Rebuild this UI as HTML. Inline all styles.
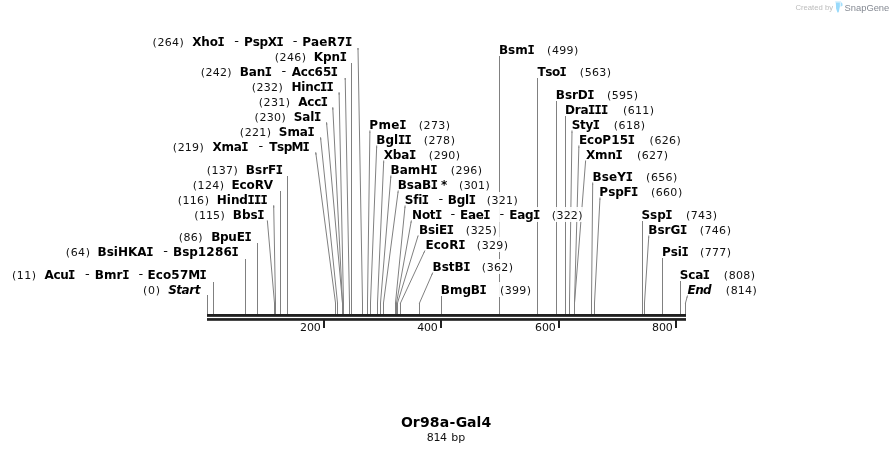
<!DOCTYPE html>
<html><head><meta charset="utf-8"><title>Or98a-Gal4</title>
<style>
html,body{margin:0;padding:0;background:#fff}
svg{display:block}
text{font-family:"DejaVu Sans","Liberation Sans",sans-serif;font-kerning:none;font-variant-ligatures:none;fill:#000;white-space:pre}
.n{font-size:11px;fill:#111}
.d{font-size:13px;fill:#111}
.b{font-size:12px;font-weight:bold}
.i{font-size:12px;font-weight:bold;font-style:italic}
.t{font-size:14px;font-weight:bold}
.m{font-family:"DejaVu Sans Mono","Liberation Mono",monospace;stroke:#000;stroke-width:0.2px}
.w{font-family:"Liberation Sans",sans-serif}
.ln{stroke:#808080;stroke-width:1;fill:none;stroke-linecap:square}
.v{stroke:#808080;stroke-width:1;shape-rendering:crispEdges}
.bg{fill:#fff;fill-opacity:0.65}
.bg2{fill:#fff;fill-opacity:0.75}
</style></head><body>
<svg width="893" height="453" viewBox="0 0 893 453">
<rect width="893" height="453" fill="#fff"/>
<g id="lines">
<line class="ln" x1="358" y1="48.6" x2="362.5" y2="303"/>
<line class="v" x1="362.5" y1="303" x2="362.5" y2="314"/>
<line class="v" x1="351.5" y1="63" x2="351.5" y2="314"/>
<line class="ln" x1="345.2" y1="78.6" x2="349.5" y2="303"/>
<line class="v" x1="349.5" y1="303" x2="349.5" y2="314"/>
<line class="ln" x1="339.1" y1="93" x2="343.5" y2="303"/>
<line class="v" x1="343.5" y1="303" x2="343.5" y2="314"/>
<line class="ln" x1="332.8" y1="108" x2="342.5" y2="303"/>
<line class="v" x1="342.5" y1="303" x2="342.5" y2="314"/>
<line class="ln" x1="326.6" y1="123" x2="342.5" y2="303"/>
<line class="v" x1="342.5" y1="303" x2="342.5" y2="314"/>
<line class="ln" x1="320.6" y1="138" x2="337.5" y2="303"/>
<line class="v" x1="337.5" y1="303" x2="337.5" y2="314"/>
<line class="ln" x1="315.8" y1="153" x2="335.5" y2="303"/>
<line class="v" x1="335.5" y1="303" x2="335.5" y2="314"/>
<line class="v" x1="287.5" y1="176" x2="287.5" y2="314"/>
<line class="v" x1="280.5" y1="191" x2="280.5" y2="314"/>
<line class="ln" x1="273.7" y1="206" x2="275.5" y2="303"/>
<line class="v" x1="275.5" y1="303" x2="275.5" y2="314"/>
<line class="ln" x1="267.4" y1="221" x2="274.5" y2="303"/>
<line class="v" x1="274.5" y1="303" x2="274.5" y2="314"/>
<line class="v" x1="257.5" y1="243" x2="257.5" y2="314"/>
<line class="v" x1="245.5" y1="259" x2="245.5" y2="314"/>
<line class="v" x1="213.5" y1="282" x2="213.5" y2="314"/>
<line class="v" x1="207.5" y1="295" x2="207.5" y2="314"/>
<line class="ln" x1="369.9" y1="131" x2="367.5" y2="303"/>
<line class="v" x1="367.5" y1="303" x2="367.5" y2="314"/>
<line class="ln" x1="376.7" y1="146" x2="370.5" y2="303"/>
<line class="v" x1="370.5" y1="303" x2="370.5" y2="314"/>
<line class="ln" x1="383.7" y1="161" x2="377.5" y2="303"/>
<line class="v" x1="377.5" y1="303" x2="377.5" y2="314"/>
<line class="ln" x1="390.9" y1="176" x2="380.5" y2="303"/>
<line class="v" x1="380.5" y1="303" x2="380.5" y2="314"/>
<line class="ln" x1="398.2" y1="191" x2="383.5" y2="303"/>
<line class="v" x1="383.5" y1="303" x2="383.5" y2="314"/>
<line class="ln" x1="405.1" y1="206" x2="395.5" y2="303"/>
<line class="v" x1="395.5" y1="303" x2="395.5" y2="314"/>
<line class="ln" x1="411.3" y1="221" x2="396.5" y2="303"/>
<line class="v" x1="396.5" y1="303" x2="396.5" y2="314"/>
<line class="ln" x1="418" y1="236" x2="397.5" y2="303"/>
<line class="v" x1="397.5" y1="303" x2="397.5" y2="314"/>
<line class="ln" x1="424.7" y1="251" x2="400.5" y2="303"/>
<line class="v" x1="400.5" y1="303" x2="400.5" y2="314"/>
<line class="ln" x1="432.6" y1="273" x2="419.5" y2="303"/>
<line class="v" x1="419.5" y1="303" x2="419.5" y2="314"/>
<line class="v" x1="441.5" y1="296" x2="441.5" y2="314"/>
<line class="v" x1="499.5" y1="56" x2="499.5" y2="314"/>
<line class="v" x1="537.5" y1="78" x2="537.5" y2="314"/>
<line class="v" x1="556.5" y1="101" x2="556.5" y2="314"/>
<line class="v" x1="565.5" y1="116" x2="565.5" y2="314"/>
<line class="ln" x1="572" y1="131" x2="569.5" y2="303"/>
<line class="v" x1="569.5" y1="303" x2="569.5" y2="314"/>
<line class="ln" x1="578.9" y1="146" x2="574.5" y2="303"/>
<line class="v" x1="574.5" y1="303" x2="574.5" y2="314"/>
<line class="ln" x1="585.6" y1="161" x2="574.5" y2="303"/>
<line class="v" x1="574.5" y1="303" x2="574.5" y2="314"/>
<line class="ln" x1="592.7" y1="183" x2="591.5" y2="303"/>
<line class="v" x1="591.5" y1="303" x2="591.5" y2="314"/>
<line class="ln" x1="600" y1="198" x2="594.5" y2="303"/>
<line class="v" x1="594.5" y1="303" x2="594.5" y2="314"/>
<line class="v" x1="642.5" y1="221" x2="642.5" y2="314"/>
<line class="ln" x1="648.8" y1="236" x2="644.5" y2="303"/>
<line class="v" x1="644.5" y1="303" x2="644.5" y2="314"/>
<line class="v" x1="662.5" y1="258" x2="662.5" y2="314"/>
<line class="v" x1="680.5" y1="281" x2="680.5" y2="314"/>
<line class="ln" x1="687.4" y1="296" x2="685.5" y2="303"/>
<line class="v" x1="685.5" y1="303" x2="685.5" y2="314"/>
</g>
<g id="bgs">
<rect class="bg" x="148.9" y="34" width="207.1" height="15"/>
<rect class="bg2" x="152.4" y="34" width="200.1" height="15"/>
<rect class="bg" x="271.1" y="49" width="79.5" height="15"/>
<rect class="bg2" x="274.6" y="49" width="72.5" height="15"/>
<rect class="bg" x="197.2" y="64" width="144.5" height="15"/>
<rect class="bg2" x="200.7" y="64" width="137.5" height="15"/>
<rect class="bg" x="248" y="79" width="89.3" height="15"/>
<rect class="bg2" x="251.5" y="79" width="82.3" height="15"/>
<rect class="bg" x="255.1" y="94" width="76.5" height="15"/>
<rect class="bg2" x="258.6" y="94" width="69.5" height="15"/>
<rect class="bg" x="250.9" y="109" width="74.1" height="15"/>
<rect class="bg2" x="254.4" y="109" width="67.1" height="15"/>
<rect class="bg" x="236.2" y="124" width="82.1" height="15"/>
<rect class="bg2" x="239.7" y="124" width="75.1" height="15"/>
<rect class="bg" x="169.2" y="139" width="144.2" height="15"/>
<rect class="bg2" x="172.7" y="139" width="137.2" height="15"/>
<rect class="bg" x="203.1" y="162" width="83.5" height="15"/>
<rect class="bg2" x="206.6" y="162" width="76.5" height="15"/>
<rect class="bg" x="189.1" y="177" width="88.6" height="15"/>
<rect class="bg2" x="192.6" y="177" width="81.6" height="15"/>
<rect class="bg" x="174.1" y="192" width="97.2" height="15"/>
<rect class="bg2" x="177.6" y="192" width="90.2" height="15"/>
<rect class="bg" x="190.6" y="207" width="77.5" height="15"/>
<rect class="bg2" x="194.1" y="207" width="70.5" height="15"/>
<rect class="bg" x="175.1" y="229" width="80.2" height="15"/>
<rect class="bg2" x="178.6" y="229" width="73.2" height="15"/>
<rect class="bg" x="62" y="244" width="180.5" height="15"/>
<rect class="bg2" x="65.5" y="244" width="173.5" height="15"/>
<rect class="bg" x="8.3" y="267" width="202.1" height="15"/>
<rect class="bg2" x="11.8" y="267" width="195.1" height="15"/>
<rect class="bg" x="139.4" y="282" width="66.1" height="15"/>
<rect class="bg2" x="142.9" y="282" width="59.1" height="15"/>
<rect class="bg" x="365.8" y="117" width="87.9" height="15"/>
<rect class="bg2" x="369.3" y="117" width="80.9" height="15"/>
<rect class="bg" x="372.7" y="132" width="85.9" height="15"/>
<rect class="bg2" x="376.2" y="132" width="78.9" height="15"/>
<rect class="bg" x="379.4" y="147" width="84.4" height="15"/>
<rect class="bg2" x="382.9" y="147" width="77.4" height="15"/>
<rect class="bg" x="387" y="162" width="98.7" height="15"/>
<rect class="bg2" x="390.5" y="162" width="91.7" height="15"/>
<rect class="bg" x="394.2" y="177" width="99.2" height="15"/>
<rect class="bg2" x="397.7" y="177" width="92.2" height="15"/>
<rect class="bg" x="401.1" y="192" width="120.3" height="15"/>
<rect class="bg2" x="404.6" y="192" width="113.3" height="15"/>
<rect class="bg" x="408.5" y="207" width="177.6" height="15"/>
<rect class="bg2" x="412" y="207" width="170.6" height="15"/>
<rect class="bg" x="415.4" y="222" width="85.1" height="15"/>
<rect class="bg2" x="418.9" y="222" width="78.1" height="15"/>
<rect class="bg" x="422" y="237" width="89.7" height="15"/>
<rect class="bg2" x="425.5" y="237" width="82.7" height="15"/>
<rect class="bg" x="429" y="259" width="87.8" height="15"/>
<rect class="bg2" x="432.5" y="259" width="80.8" height="15"/>
<rect class="bg" x="437.2" y="282" width="97.5" height="15"/>
<rect class="bg2" x="440.7" y="282" width="90.5" height="15"/>
<rect class="bg" x="495.4" y="42" width="86.6" height="15"/>
<rect class="bg2" x="498.9" y="42" width="79.6" height="15"/>
<rect class="bg" x="533" y="64" width="81.7" height="15"/>
<rect class="bg2" x="536.5" y="64" width="74.7" height="15"/>
<rect class="bg" x="552.3" y="87" width="89.5" height="15"/>
<rect class="bg2" x="555.8" y="87" width="82.5" height="15"/>
<rect class="bg" x="561.4" y="102" width="96.2" height="15"/>
<rect class="bg2" x="564.9" y="102" width="89.2" height="15"/>
<rect class="bg" x="568" y="117" width="80.7" height="15"/>
<rect class="bg2" x="571.5" y="117" width="73.7" height="15"/>
<rect class="bg" x="575.4" y="132" width="109.1" height="15"/>
<rect class="bg2" x="578.9" y="132" width="102.1" height="15"/>
<rect class="bg" x="581.8" y="147" width="89.8" height="15"/>
<rect class="bg2" x="585.3" y="147" width="82.8" height="15"/>
<rect class="bg" x="588.9" y="169" width="92" height="15"/>
<rect class="bg2" x="592.4" y="169" width="85" height="15"/>
<rect class="bg" x="595.8" y="184" width="90.1" height="15"/>
<rect class="bg2" x="599.3" y="184" width="83.1" height="15"/>
<rect class="bg" x="637.7" y="207" width="82.9" height="15"/>
<rect class="bg2" x="641.2" y="207" width="75.9" height="15"/>
<rect class="bg" x="644.8" y="222" width="89.8" height="15"/>
<rect class="bg2" x="648.3" y="222" width="82.8" height="15"/>
<rect class="bg" x="658.4" y="244" width="76.2" height="15"/>
<rect class="bg2" x="661.9" y="244" width="69.2" height="15"/>
<rect class="bg" x="675.9" y="267" width="82.9" height="15"/>
<rect class="bg2" x="679.4" y="267" width="75.9" height="15"/>
<rect class="bg" x="683.3" y="282" width="77.2" height="15"/>
<rect class="bg2" x="686.8" y="282" width="70.2" height="15"/>
</g>
<g id="over"><line class="ln" x1="358" y1="48.6" x2="358.01" y2="49.2"/><line class="v" x1="351.5" y1="63" x2="351.5" y2="64.2"/><line class="ln" x1="345.2" y1="78.6" x2="345.21" y2="79.2"/><line class="ln" x1="339.1" y1="93" x2="339.13" y2="94.2"/><line class="ln" x1="332.8" y1="108" x2="332.86" y2="109.2"/><line class="ln" x1="326.6" y1="123" x2="326.71" y2="124.2"/><line class="ln" x1="320.6" y1="138" x2="320.72" y2="139.2"/><line class="ln" x1="315.8" y1="153" x2="315.96" y2="154.2"/><line class="v" x1="287.5" y1="176" x2="287.5" y2="177.2"/><line class="v" x1="280.5" y1="191" x2="280.5" y2="192.2"/><line class="ln" x1="273.7" y1="206" x2="273.72" y2="207.2"/><line class="ln" x1="267.4" y1="221" x2="267.5" y2="222.2"/><line class="v" x1="257.5" y1="243" x2="257.5" y2="244.2"/><line class="v" x1="245.5" y1="259" x2="245.5" y2="259.2"/><line class="v" x1="213.5" y1="282" x2="213.5" y2="282.2"/><line class="v" x1="207.5" y1="295" x2="207.5" y2="297.2"/><line class="ln" x1="369.9" y1="131" x2="369.88" y2="132.2"/><line class="ln" x1="376.7" y1="146" x2="376.65" y2="147.2"/><line class="ln" x1="383.7" y1="161" x2="383.65" y2="162.2"/><line class="ln" x1="390.9" y1="176" x2="390.8" y2="177.2"/><line class="ln" x1="398.2" y1="191" x2="398.04" y2="192.2"/><line class="ln" x1="405.1" y1="206" x2="404.98" y2="207.2"/><line class="ln" x1="411.3" y1="221" x2="411.08" y2="222.2"/><line class="ln" x1="418" y1="236" x2="417.63" y2="237.2"/><line class="ln" x1="424.7" y1="251" x2="424.14" y2="252.2"/><line class="ln" x1="432.6" y1="273" x2="432.08" y2="274.2"/><line class="v" x1="441.5" y1="296" x2="441.5" y2="297.2"/><line class="v" x1="499.5" y1="56" x2="499.5" y2="57.2"/><line class="v" x1="537.5" y1="78" x2="537.5" y2="79.2"/><line class="v" x1="556.5" y1="101" x2="556.5" y2="102.2"/><line class="v" x1="565.5" y1="116" x2="565.5" y2="117.2"/><line class="ln" x1="572" y1="131" x2="571.98" y2="132.2"/><line class="ln" x1="578.9" y1="146" x2="578.87" y2="147.2"/><line class="ln" x1="585.6" y1="161" x2="585.51" y2="162.2"/><line class="ln" x1="592.7" y1="183" x2="592.69" y2="184.2"/><line class="ln" x1="600" y1="198" x2="599.94" y2="199.2"/><line class="v" x1="642.5" y1="221" x2="642.5" y2="222.2"/><line class="ln" x1="648.8" y1="236" x2="648.72" y2="237.2"/><line class="v" x1="662.5" y1="258" x2="662.5" y2="259.2"/><line class="v" x1="680.5" y1="281" x2="680.5" y2="282.2"/><line class="ln" x1="687.4" y1="296" x2="687.07" y2="297.2"/></g>
<rect x="207" y="314" width="479" height="2.85" fill="#202020"/>
<rect x="207" y="318.1" width="479" height="2.7" fill="#202020"/>
<rect x="323" y="320" width="2" height="8" fill="#222"/>
<text class="n" x="300.11 306.93 313.74" y="331">200</text>
<rect x="440" y="320" width="2" height="8" fill="#222"/>
<text class="n" x="417.28 424.01 430.74" y="331">400</text>
<rect x="558" y="320" width="2" height="8" fill="#222"/>
<text class="n" x="535.11 541.93 548.74" y="331">600</text>
<rect x="675" y="320" width="2" height="8" fill="#222"/>
<text class="n" x="652.11 658.93 665.74" y="331">800</text>
<g id="labels">
<text class="n" x="152.54 157.42 164.7 171.97 179.56" y="46">(264)</text>
<text class="b" x="192.21 201.3 209.72 217.53" y="46">Xho<tspan class="m">I</tspan></text>
<text class="d" x="234.36" y="45.2">-</text>
<text class="b" x="243.96 252.63 259.55 267.87 276.62" y="46">PspX<tspan class="m">I</tspan></text>
<text class="d" x="292.86" y="45.2">-</text>
<text class="b" x="302.26 311.12 319.19 327.42 336.93 345.12" y="46">PaeR7<tspan class="m">I</tspan></text>
<text class="n" x="274.74 279.62 286.9 294.17 301.76" y="61">(246)</text>
<text class="b" x="313.66 322.9 331.46 339.73" y="61">Kpn<tspan class="m">I</tspan></text>
<text class="n" x="200.84 205.61 212.75 219.89 227.36" y="76">(242)</text>
<text class="b" x="239.76 248.76 256.71 264.82" y="76">Ban<tspan class="m">I</tspan></text>
<text class="d" x="281.56" y="75.2">-</text>
<text class="b" x="291.7 300.76 307.63 314.61 322.92 330.82" y="76">Acc65<tspan class="m">I</tspan></text>
<text class="n" x="251.64 256.5 263.75 271 278.56" y="91">(232)</text>
<text class="b" x="291.46 301.3 305.22 313.51 320.06 326.43" y="91">Hinc<tspan class="m">I</tspan><tspan class="m">I</tspan></text>
<text class="n" x="258.74 263.62 270.9 278.17 285.76" y="106">(231)</text>
<text class="b" x="298.3 307.33 314.18 320.73" y="106">Acc<tspan class="m">I</tspan></text>
<text class="n" x="254.54 259.42 266.7 273.97 281.56" y="121">(230)</text>
<text class="b" x="293.65 302.24 310.32 314.12" y="121">Sal<tspan class="m">I</tspan></text>
<text class="n" x="239.84 244.7 251.95 259.2 266.76" y="136">(221)</text>
<text class="b" x="278.85 287.38 299.8 307.43" y="136">Sma<tspan class="m">I</tspan></text>
<text class="n" x="172.84 177.65 184.85 192.04 199.56" y="151">(219)</text>
<text class="b" x="212.41 221.42 233.7 241.22" y="151">Xma<tspan class="m">I</tspan></text>
<text class="d" x="258.51" y="150.2">-</text>
<text class="b" x="269.2 277.06 283.77 291.57 302.52" y="151">TspM<tspan class="m">I</tspan></text>
<text class="n" x="206.74 211.58 218.8 226.02 233.56" y="174">(137)</text>
<text class="b" x="245.86 255.04 262.24 268.02 275.73" y="174">BsrF<tspan class="m">I</tspan></text>
<text class="n" x="192.74 197.62 204.9 212.17 219.76" y="189">(124)</text>
<text class="b" x="231.56 239.6 246.56 254.73 263.82" y="189">EcoRV</text>
<text class="n" x="177.74 182.6 189.85 197.1 204.66" y="204">(116)</text>
<text class="b" x="216.86 226.85 230.92 239.31 247.41 253.92 260.43" y="204">Hind<tspan class="m">I</tspan><tspan class="m">I</tspan><tspan class="m">I</tspan></text>
<text class="n" x="194.24 198.94 206 213.06 220.46" y="219">(115)</text>
<text class="b" x="232.86 241.93 250.42 257.23" y="219">Bbs<tspan class="m">I</tspan></text>
<text class="n" x="178.74 183.55 190.74 198.26" y="241">(86)</text>
<text class="b" x="211.16 220.03 228.34 236.72 244.43" y="241">BpuE<tspan class="m">I</tspan></text>
<text class="n" x="65.64 70.64 78.06 85.76" y="256">(64)</text>
<text class="b" x="97.56 106.72 113.86 117.98 128.03 137.34 146.32" y="256">BsiHKA<tspan class="m">I</tspan></text>
<text class="d" x="163.31" y="255.2">-</text>
<text class="b" x="172.96 182.13 189.18 197.8 206.36 214.93 223.49 231.62" y="256">Bsp1286<tspan class="m">I</tspan></text>
<text class="n" x="11.94 16.85 24.15 31.76" y="279">(11)</text>
<text class="b" x="44.6 53.48 60.18 68.03" y="279">Acu<tspan class="m">I</tspan></text>
<text class="d" x="85.11" y="278.2">-</text>
<text class="b" x="94.66 103.94 116.6 122.22" y="279">Bmr<tspan class="m">I</tspan></text>
<text class="d" x="138.56" y="278.2">-</text>
<text class="b" x="147.56 155.78 162.92 171.32 179.91 188.14 199.53" y="279">Eco57M<tspan class="m">I</tspan></text>
<text class="n" x="143.04 148 155.66" y="294">(0)</text>
<text class="i" x="168.2 176.31 181.54 189.28 194.81" y="294">Start</text>
<text class="b" x="369.36 378.53 391.32 399.23" y="129">Pme<tspan class="m">I</tspan></text>
<text class="n" x="418.74 423.62 430.9 438.17 445.76" y="129">(273)</text>
<text class="b" x="376.26 385.47 394.08 397.95 404.62" y="144">Bgl<tspan class="m">I</tspan><tspan class="m">I</tspan></text>
<text class="n" x="423.64 428.52 435.8 443.07 450.66" y="144">(278)</text>
<text class="b" x="383.71 392.83 401.29 409.02" y="159">Xba<tspan class="m">I</tspan></text>
<text class="n" x="428.84 433.72 441 448.27 455.86" y="159">(290)</text>
<text class="b" x="390.56 399.69 407.87 420.5 430.23" y="174">BamH<tspan class="m">I</tspan></text>
<text class="n" x="450.74 455.62 462.9 470.17 477.76" y="174">(296)</text>
<text class="b" x="397.76 406.86 413.92 421.95 430.73" y="189">BsaB<tspan class="m">I</tspan></text>
<text class="b" x="440.96" y="189">*</text>
<text class="n" x="458.94 463.71 470.85 477.99 485.46" y="189">(301)</text>
<text class="b" x="404.85 413.17 418.19 421.82" y="204">Sfi<tspan class="m">I</tspan></text>
<text class="d" x="438.46" y="203.2">-</text>
<text class="b" x="447.76 456.66 465.04 468.73" y="204">Bgl<tspan class="m">I</tspan></text>
<text class="n" x="486.74 491.55 498.75 505.94 513.46" y="204">(321)</text>
<text class="b" x="412.06 421.91 429.83 434.93" y="219">Not<tspan class="m">I</tspan></text>
<text class="d" x="450.56" y="218.2">-</text>
<text class="b" x="460.06 467.98 475.72 483.23" y="219">Eae<tspan class="m">I</tspan></text>
<text class="d" x="499.56" y="218.2">-</text>
<text class="b" x="509.36 517.31 525.06 533.02" y="219">Eag<tspan class="m">I</tspan></text>
<text class="n" x="551.84 556.56 563.65 570.74 578.16" y="219">(322)</text>
<text class="b" x="418.96 427.96 434.99 438.99 446.73" y="234">BsiE<tspan class="m">I</tspan></text>
<text class="n" x="465.84 470.65 477.85 485.04 492.56" y="234">(325)</text>
<text class="b" x="425.56 433.76 440.87 449.22 458.23" y="249">EcoR<tspan class="m">I</tspan></text>
<text class="n" x="476.84 481.7 488.95 496.2 503.76" y="249">(329)</text>
<text class="b" x="432.56 441.76 448.8 454.46 463.32" y="271">BstB<tspan class="m">I</tspan></text>
<text class="n" x="481.84 486.72 494 501.27 508.86" y="271">(362)</text>
<text class="b" x="440.76 449.95 462.4 470.85 479.62" y="294">BmgB<tspan class="m">I</tspan></text>
<text class="n" x="499.94 504.78 512 519.22 526.76" y="294">(399)</text>
<text class="b" x="498.96 508.08 515.28 527.52" y="54">Bsm<tspan class="m">I</tspan></text>
<text class="n" x="547.04 551.92 559.2 566.47 574.06" y="54">(499)</text>
<text class="b" x="537.5 545.27 552 559.52" y="76">Tso<tspan class="m">I</tspan></text>
<text class="n" x="579.84 584.7 591.95 599.2 606.76" y="76">(563)</text>
<text class="b" x="555.86 564.89 571.96 577.8 587.33" y="99">BsrD<tspan class="m">I</tspan></text>
<text class="n" x="606.94 611.8 619.05 626.3 633.86" y="99">(595)</text>
<text class="b" x="564.96 574.78 580.53 588.1 594.51 600.92" y="114">Dra<tspan class="m">I</tspan><tspan class="m">I</tspan><tspan class="m">I</tspan></text>
<text class="n" x="622.94 627.75 634.95 642.14 649.66" y="114">(611)</text>
<text class="b" x="571.75 580.01 585.44 592.73" y="129">Sty<tspan class="m">I</tspan></text>
<text class="n" x="613.74 618.62 625.9 633.17 640.76" y="129">(618)</text>
<text class="b" x="578.96 587.09 594.13 602.33 611.17 619.66 627.73" y="144">EcoP15<tspan class="m">I</tspan></text>
<text class="n" x="649.54 654.42 661.7 668.97 676.56" y="144">(626)</text>
<text class="b" x="586.11 595.12 607.43 615.42" y="159">Xmn<tspan class="m">I</tspan></text>
<text class="n" x="636.94 641.75 648.95 656.14 663.66" y="159">(627)</text>
<text class="b" x="592.46 601.73 608.9 617.17 625.73" y="181">BseY<tspan class="m">I</tspan></text>
<text class="n" x="646.04 650.9 658.15 665.4 672.96" y="181">(656)</text>
<text class="b" x="599.36 608.14 615.17 623.46 631.12" y="196">PspF<tspan class="m">I</tspan></text>
<text class="n" x="650.94 655.82 663.1 670.37 677.96" y="196">(660)</text>
<text class="b" x="641.45 650.06 657.13 665.33" y="219">Ssp<tspan class="m">I</tspan></text>
<text class="n" x="685.94 690.75 697.95 705.14 712.66" y="219">(743)</text>
<text class="b" x="648.36 657.48 664.62 670.49 679.92" y="234">BsrG<tspan class="m">I</tspan></text>
<text class="n" x="699.74 704.6 711.85 719.1 726.66" y="234">(746)</text>
<text class="b" x="661.96 670.65 677.71 681.42" y="256">Psi<tspan class="m">I</tspan></text>
<text class="n" x="699.94 704.75 711.95 719.14 726.66" y="256">(777)</text>
<text class="b" x="679.65 688.15 695.15 702.83" y="279">Sca<tspan class="m">I</tspan></text>
<text class="n" x="723.84 728.72 736 743.27 750.86" y="279">(808)</text>
<text class="i" x="687.61 695.23 703.09" y="294">End</text>
<text class="n" x="725.84 730.65 737.85 745.04 752.56" y="294">(814)</text>
</g>
<text class="t" x="400.94 412.87 419.92 429.87 439.68 449.53 455.73 467.11 476.51 481.41" y="427">Or98a-Gal4</text>
<text class="n" x="426.71 433.39 440.07" y="441">814</text>
<text class="n" x="451.14 458.37" y="441">bp</text>
<text class="w" x="795.4" y="10.3" font-size="7.7" style="fill:#bcbcbc" textLength="37.7" lengthAdjust="spacingAndGlyphs">Created by</text>
<rect x="835.2" y="1.3" width="5.8" height="1.2" fill="#cdeefd"/>
<path d="M835.8 2.4 H839.9 V6.6 L838.7 12.2 L837.4 12.6 L836.1 8.4 Z" fill="#99dafb"/>
<path d="M840.6 2.4 L841.7 2.6 L842.5 3.7 V5.8 L840.6 6.7 Z" fill="#a5dffb"/>
<text class="w" x="844.5" y="10.6" font-size="9" style="fill:#858a93" textLength="44.8" lengthAdjust="spacingAndGlyphs">SnapGene</text>
</svg></body></html>
